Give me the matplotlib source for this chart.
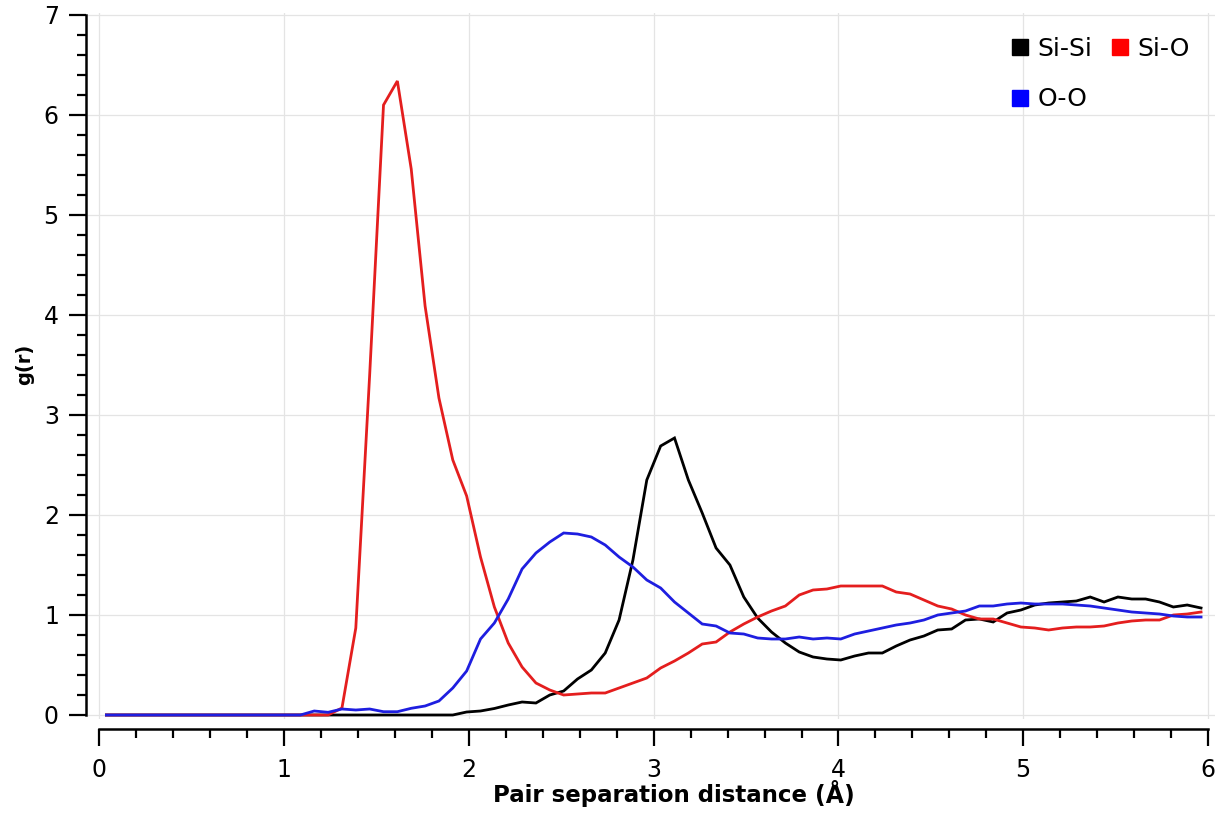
import numpy as np
import matplotlib
matplotlib.use("Agg")
import matplotlib.pyplot as plt
from matplotlib.lines import Line2D
from matplotlib.ticker import MultipleLocator

# bin centres (0.075 A bins from 0 to 6 A)
r = np.round(0.0375 + 0.075 * np.arange(80), 4)

si_si = [0, 0, 0, 0, 0, 0, 0, 0, 0, 0,
         0, 0, 0, 0, 0, 0, 0, 0, 0, 0,
         0, 0, 0, 0, 0, 0.0, 0.03, 0.04, 0.065, 0.10,
         0.13, 0.12, 0.20, 0.24, 0.36, 0.45, 0.62, 0.95, 1.55, 2.35,
         2.69, 2.77, 2.35, 2.02, 1.67, 1.50, 1.18, 0.97, 0.83, 0.72,
         0.63, 0.58, 0.56, 0.55, 0.59, 0.62, 0.62, 0.69, 0.75, 0.79,
         0.85, 0.86, 0.95, 0.96, 0.93, 1.02, 1.05, 1.10, 1.12, 1.13,
         1.14, 1.18, 1.13, 1.18, 1.16, 1.16, 1.13, 1.08, 1.10, 1.07]

si_o = [0, 0, 0, 0, 0, 0, 0, 0, 0, 0,
        0, 0, 0, 0, 0, 0, 0.0, 0.07, 0.87, 3.4,
        6.10, 6.34, 5.46, 4.09, 3.17, 2.55, 2.19, 1.58, 1.08, 0.72,
        0.48, 0.32, 0.25, 0.20, 0.21, 0.22, 0.22, 0.27, 0.32, 0.37,
        0.47, 0.54, 0.62, 0.71, 0.73, 0.83, 0.91, 0.98, 1.04, 1.09,
        1.20, 1.25, 1.26, 1.29, 1.29, 1.29, 1.29, 1.23, 1.21, 1.15,
        1.09, 1.06, 1.00, 0.96, 0.96, 0.92, 0.88, 0.87, 0.85, 0.87,
        0.88, 0.88, 0.89, 0.92, 0.94, 0.95, 0.95, 1.00, 1.01, 1.03]

o_o = [0, 0, 0, 0, 0, 0, 0, 0, 0, 0,
       0, 0, 0, 0, 0.0, 0.04, 0.027, 0.06, 0.05, 0.06,
       0.033, 0.033, 0.067, 0.09, 0.14, 0.27, 0.44, 0.76, 0.92, 1.16,
       1.46, 1.62, 1.73, 1.82, 1.81, 1.78, 1.70, 1.58, 1.48, 1.35,
       1.27, 1.13, 1.02, 0.91, 0.89, 0.82, 0.81, 0.77, 0.76, 0.76,
       0.78, 0.76, 0.77, 0.76, 0.81, 0.84, 0.87, 0.90, 0.92, 0.95,
       1.00, 1.02, 1.04, 1.09, 1.09, 1.11, 1.12, 1.11, 1.11, 1.11,
       1.10, 1.09, 1.07, 1.05, 1.03, 1.02, 1.01, 0.99, 0.98, 0.98]

labels = ["Si-Si", "Si-O", "O-O"]
colors = ["#000000", "#e41e1e", "#1e1ee0"]
legend_colors = ["#000000", "#ff0000", "#0000ff"]

x_ticks = [0, 1, 2, 3, 4, 5, 6]
y_ticks = [0, 1, 2, 3, 4, 5, 6, 7]

W, H = 1222, 814
fig = plt.figure(figsize=(W / 100, H / 100), dpi=100)
plt.rcParams['font.family'] = ['DejaVu Sans']

# axes placement (pixel based)
ax_l, ax_r, ax_t, ax_b = 88, 1215, 13, 719
ax = fig.add_axes([ax_l / W, 1 - ax_b / H, (ax_r - ax_l) / W, (ax_b - ax_t) / H])

for series, c in zip([si_si, si_o, o_o], colors):
    ax.plot(r, series, color=c, lw=2.0, solid_joinstyle='miter')

ax.set_xlim(-0.062, 6.038)
ax.set_ylim(-0.04, 7.02)

ax.set_xticks(x_ticks)
ax.set_yticks(y_ticks)
ax.xaxis.set_minor_locator(MultipleLocator(0.2))
ax.yaxis.set_minor_locator(MultipleLocator(0.2))

ax.grid(True, which='major', color='#e4e4e4', lw=0.9)
ax.set_axisbelow(True)

for s in ['top', 'right']:
    ax.spines[s].set_visible(False)
ax.spines['left'].set_bounds(0, 7)
ax.spines['bottom'].set_bounds(0, 6)
ax.spines['left'].set_position(('outward', 1.5))
ax.spines['bottom'].set_position(('outward', 7.2))
for s in ['left', 'bottom']:
    ax.spines[s].set_linewidth(1.8)

ax.tick_params(which='major', direction='out', length=12.5, width=1.6,
               labelsize=17, pad=7, color='black')
ax.tick_params(axis='x', which='major', pad=8.5)
ax.tick_params(which='minor', direction='out', length=6.5, width=1.6, color='black')

# axis titles
fig.text(25 / W, 1 - 364 / H, "g(r)", rotation=90, ha='center', va='center',
         fontsize=14, fontweight='bold')
fig.text(650 / W, 1 - 802 / H, "Pair separation distance", ha='center', va='baseline',
         fontsize=16.5, fontweight='bold')
fig.text(835 / W, 1 - 795 / H, "(Å)", ha='center', va='center',
         fontsize=17, fontweight='bold')

# legend (row-wise order: Si-Si, Si-O / O-O)
handles = [Line2D([], [], marker='s', linestyle='None', color=c,
                  markersize=11.5) for c in legend_colors]
order = [0, 2, 1]
ax.legend([handles[i] for i in order], [labels[i] for i in order],
          ncol=2, frameon=False, loc='upper right',
          bbox_to_anchor=(1190 / W, 1 - 37 / H), bbox_transform=fig.transFigure,
          fontsize=18, handlelength=0.75, handletextpad=0.35,
          columnspacing=0.7, labelspacing=1.05, borderpad=0, borderaxespad=0)

fig.savefig("out.png", dpi=100)
